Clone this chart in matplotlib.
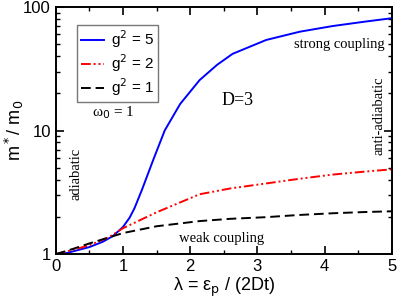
import matplotlib

matplotlib.use("Agg")
import matplotlib.pyplot as plt
from matplotlib.ticker import FixedLocator, MultipleLocator, NullFormatter

# effective mass m*/m0 vs lambda
lam5 = [0.0, 0.16, 0.5, 0.7, 0.85, 1.0, 1.1, 1.17, 1.28, 1.45, 1.62, 1.85, 2.14, 2.4, 2.63, 3.13, 3.63, 4.12, 4.6, 5.0]
m5 = [1.0, 1.02, 1.14, 1.26, 1.40, 1.66, 1.98, 2.35, 3.3, 5.8, 10.0, 16.4, 25.6, 34.0, 41.7, 54.0, 63.0, 70.0, 76.0, 81.0]

lam2 = [0.0, 0.25, 0.5, 0.8, 1.0, 1.5, 2.14, 2.6, 3.13, 3.6, 4.12, 4.6, 5.0]
m2 = [1.0, 1.08, 1.18, 1.38, 1.62, 2.18, 3.05, 3.4, 3.73, 4.05, 4.4, 4.65, 4.85]

lam1 = [0.0, 0.25, 0.5, 1.0, 1.5, 2.14, 2.6, 3.13, 3.6, 4.12, 4.6, 5.0]
m1 = [1.0, 1.1, 1.22, 1.48, 1.68, 1.85, 1.93, 1.99, 2.07, 2.14, 2.19, 2.22]

serif = "Liberation Serif"
sans = "Liberation Sans"

fig = plt.figure(figsize=(3.99, 3.0), dpi=100)
ax = fig.add_axes([0.140, 0.153, 0.842, 0.824])

ax.plot(lam5, m5, color="#0000ff", lw=1.4, label="g$^2$ = 5")
ax.plot(lam2, m2, color="#ff0000", lw=1.4, dashes=(5, 1.5, 1, 1.5, 1, 1.5), label="g$^2$ = 2")
ax.plot(lam1, m1, color="black", lw=1.4, dashes=(5, 2.5), label="g$^2$ = 1")

ax.set_yscale("log")
ax.set_xlim(0, 5)
ax.set_ylim(1, 100)
ax.xaxis.set_major_locator(MultipleLocator(1))
ax.xaxis.set_minor_locator(MultipleLocator(0.5))
ax.yaxis.set_major_locator(FixedLocator([1, 10, 100]))
ax.set_yticklabels(["1", "10", "100"])
ax.yaxis.set_minor_formatter(NullFormatter())
ax.tick_params(which="both", direction="in", top=True, right=True, labelsize=12)
ax.tick_params(which="major", length=6, width=1.2)
ax.tick_params(which="minor", length=3, width=1.0)
for lab in ax.get_xticklabels() + ax.get_yticklabels():
    lab.set_family(sans)
for sp in ax.spines.values():
    sp.set_linewidth(1.4)

ax.set_xlabel("λ = ε$_\\mathrm{p}$ / (2Dt)", fontsize=13, family=sans, labelpad=1)
ax.set_ylabel(r"m$^*$/ m$_0$", fontsize=13, family=sans)
ax.yaxis.set_label_coords(-0.09, 0.5)

leg = ax.legend(loc="upper left", bbox_to_anchor=(0.0625, 0.927), borderaxespad=0, frameon=True,
                fancybox=False, edgecolor="#555555", handlelength=1.5, borderpad=0.25,
                labelspacing=0.15, handletextpad=0.5, prop={"family": sans, "size": 11})
leg.get_frame().set_linewidth(1.0)

ax.text(0.17, 0.571, "ω$_0$ = 1", transform=ax.transAxes, fontsize=11, family=serif,
        ha="center", va="center")
ax.text(0.54, 0.623, "D=3", transform=ax.transAxes, fontsize=13, family=serif, ha="center", va="center")
ax.text(0.978, 0.846, "strong coupling", transform=ax.transAxes, fontsize=10.5, family=serif,
        ha="right", va="center")
ax.text(0.962, 0.56, "anti-adiabatic", transform=ax.transAxes, fontsize=10.5, family=serif,
        rotation=90, ha="center", va="center")
ax.text(0.06, 0.324, "adiabatic", transform=ax.transAxes, fontsize=10.5, family=serif,
        rotation=90, ha="center", va="center")
ax.text(0.494, 0.065, "weak coupling", transform=ax.transAxes, fontsize=10.5, family=serif,
        ha="center", va="center")

fig.savefig("out.png", dpi=100)
